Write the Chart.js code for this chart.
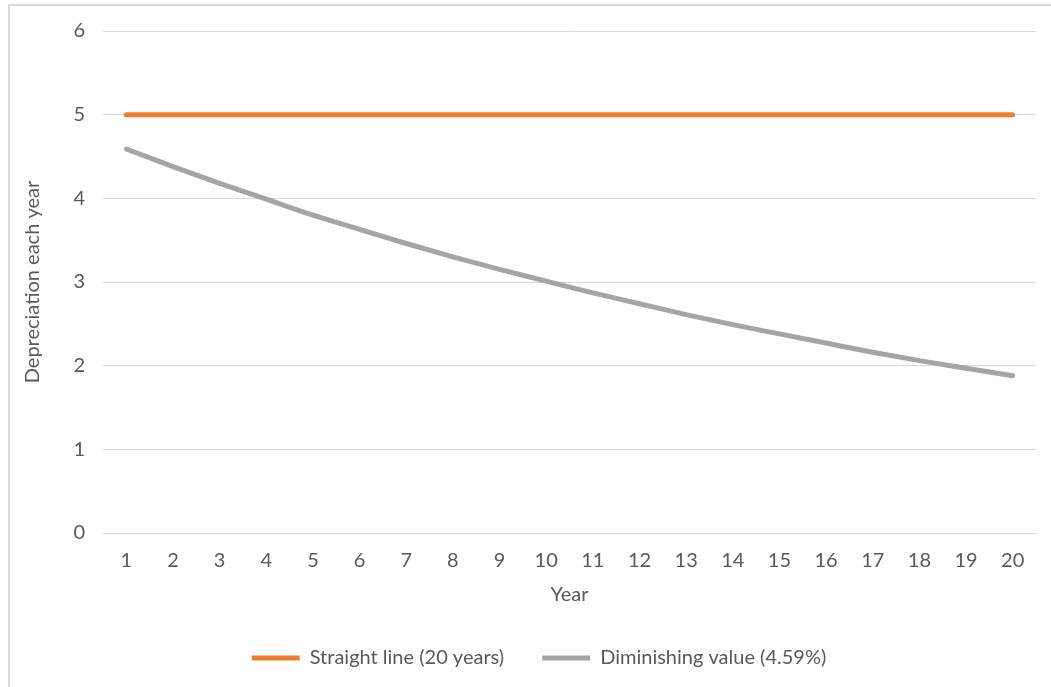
<!DOCTYPE html>
<html>
<head>
<meta charset="utf-8">
<script src="https://cdn.jsdelivr.net/npm/chart.js@4"></script>
<style>
  html, body { margin: 0; padding: 0; background: #ffffff; overflow: hidden; }
  body { width: 1051px; height: 687px; position: relative; }
  #frame {
    position: absolute; left: 8px; top: 4px; width: 1200px; height: 800px;
    border-left: 2px solid #d9d9d9; border-top: 2px solid #d9d9d9;
  }
  #wrap { position: absolute; left: 0; top: 0; width: 1080px; height: 687px; }
</style>
</head>
<body>
<div id="frame"></div>
<div id="wrap"><canvas id="chart"></canvas></div>
<script>
// Depreciation per year over a 20-year asset life
const years = ['1','2','3','4','5','6','7','8','9','10','11','12','13','14','15','16','17','18','19','20'];
const straightLine = [5,5,5,5,5,5,5,5,5,5,5,5,5,5,5,5,5,5,5,5];
const diminishingValue = [4.59,4.38,4.18,3.99,3.80,3.63,3.46,3.30,3.15,3.01,2.87,2.74,2.61,2.49,2.38,2.27,2.16,2.06,1.97,1.88];
const seriesNames = ['Straight line (20 years)', 'Diminishing value (4.59%)'];
const yTicks = [0,1,2,3,4,5,6];

const textColor = '#595959';
const gridColor = '#d9d9d9';
const fontFamily = 'Lato, "Open Sans", sans-serif';

// Center the legend under the whole chart frame rather than the plot box
const legendShift = {
  id: 'legendShift',
  afterLayout(chart) {
    const lg = chart.legend;
    if (lg) { lg.left += 21; lg.right += 21; }
  }
};

new Chart(document.getElementById('chart'), {
  type: 'line',
  data: {
    labels: years,
    datasets: [
      {
        label: seriesNames[0],
        data: straightLine,
        borderColor: '#ED7D31',
        backgroundColor: '#ED7D31',
        borderWidth: 5,
        borderCapStyle: 'round',
        pointRadius: 0,
        tension: 0
      },
      {
        label: seriesNames[1],
        data: diminishingValue,
        borderColor: '#A5A5A5',
        backgroundColor: '#A5A5A5',
        borderWidth: 5,
        borderCapStyle: 'round',
        pointRadius: 0,
        cubicInterpolationMode: 'monotone'
      }
    ]
  },
  plugins: [legendShift],
  options: {
    responsive: true,
    maintainAspectRatio: false,
    animation: false,
    devicePixelRatio: 1,
    layout: { padding: { left: 0, right: 44, top: 31, bottom: 9 } },
    plugins: {
      tooltip: { enabled: false },
      legend: {
        position: 'bottom',
        align: 'center',
        labels: {
          color: textColor,
          font: { family: fontFamily, size: 20 },
          boxWidth: 48,
          boxHeight: 5,
          padding: 38,
          generateLabels(chart) {
            return chart.data.datasets.map((ds, i) => ({
              text: ds.label,
              fillStyle: ds.borderColor,
              strokeStyle: ds.borderColor,
              lineWidth: 0,
              fontColor: textColor,
              datasetIndex: i,
              hidden: false
            }));
          }
        }
      }
    },
    scales: {
      x: {
        offset: true,
        grid: { display: false, drawTicks: false },
        border: { display: true, color: gridColor, width: 1 },
        ticks: { color: textColor, font: { family: fontFamily, size: 20 }, padding: 16, maxRotation: 0 },
        title: {
          display: true, text: 'Year', color: textColor,
          font: { family: fontFamily, size: 20 },
          padding: { top: 0, bottom: 3 }
        },
        afterFit(scale) { scale.height = 77; }
      },
      y: {
        min: 0,
        max: 6,
        afterBuildTicks(scale) { scale.ticks = yTicks.map(v => ({ value: v })); },
        grid: { color: gridColor, lineWidth: 1, drawTicks: false },
        border: { display: false },
        ticks: { color: textColor, font: { family: fontFamily, size: 20 }, padding: 18 },
        title: {
          display: true, text: 'Depreciation each year', color: textColor,
          font: { family: fontFamily, size: 20 },
          padding: { top: 21, bottom: 0 }
        },
        afterFit(scale) { scale.width = 103; }
      }
    }
  }
});
</script>
</body>
</html>
